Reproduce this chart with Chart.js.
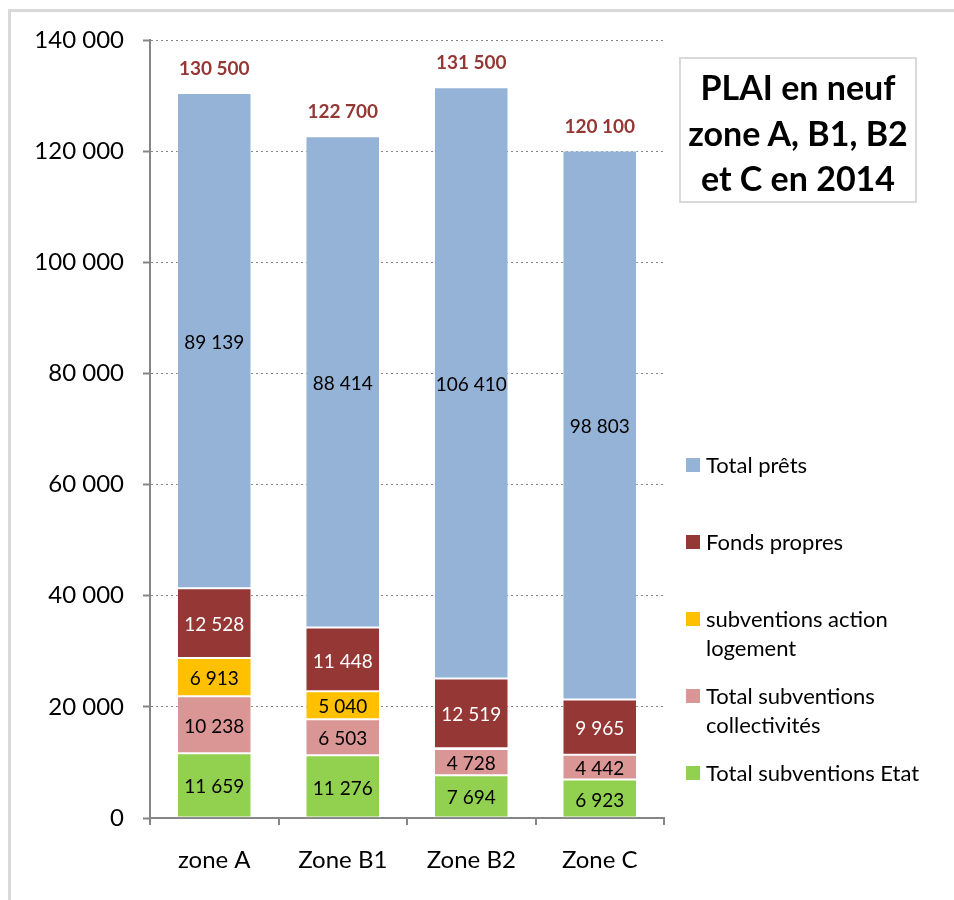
<!DOCTYPE html>
<html>
<head>
<meta charset="utf-8">
<script src="https://cdn.jsdelivr.net/npm/chart.js@4.4.1/dist/chart.umd.min.js"></script>
<style>
  body { margin: 0; background: #fff; font-family: Lato, "Open Sans", sans-serif; }
  #wrap { position: relative; width: 954px; height: 900px; overflow: hidden; }
  #frame { position: absolute; left: 8px; top: 9px; width: 1000px; height: 1000px;
           border-left: 3px solid #d9d9d9; border-top: 3px solid #d9d9d9; }
  #title { position: absolute; left: 679px; top: 57px; width: 234px; height: 137px;
           border: 2px solid #d9d9d9; text-align: center; font-weight: bold;
           font-size: 34px; line-height: 45.5px; padding-top: 5px; }
  #legend { position: absolute; left: 686px; top: 450px; width: 268px; }
  .item { position: relative; height: 77px; font-size: 22px; line-height: 29px; color: #000; }
  .item span.box { position: absolute; left: 0; top: 8px; width: 14px; height: 14px; }
  .item div { position: absolute; left: 20px; top: 0; width: 236px; }
  canvas { position: absolute; left: 0; top: 0; }
</style>
</head>
<body>
<div id="wrap">
  <div id="frame"></div>
  <canvas id="chart" width="954" height="900"></canvas>
  <div id="title">PLAI en neuf<br>zone A, B1, B2<br>et C en 2014</div>
  <div id="legend"></div>
</div>
<script>
// categories and series (stack order: bottom to top)
const zones = ["zone A", "Zone B1", "Zone B2", "Zone C"];
const subvEtat = [11659, 11276, 7694, 6923];
const subvCollectivites = [10238, 6503, 4728, 4442];
const subvActionLogement = [6913, 5040, 150, 0];
const fondsPropres = [12528, 11448, 12519, 9965];
const totalPrets = [89139, 88414, 106410, 98803];
const totals = [130500, 122700, 131500, 120100];
const yTicks = [0, 20000, 40000, 60000, 80000, 100000, 120000, 140000];

const fmt = v => String(v).replace(/\B(?=(\d{3})+(?!\d))/g, " ");

const datasets = [
  { label: "Total subventions Etat", data: subvEtat, backgroundColor: "#92D050", labelColor: "#000" },
  { label: "Total subventions collectivités", data: subvCollectivites, backgroundColor: "#D99694", labelColor: "#000" },
  { label: "subventions action logement", data: subvActionLogement, backgroundColor: "#FFC000", labelColor: "#000" },
  { label: "Fonds propres", data: fondsPropres, backgroundColor: "#953735", labelColor: "#fff" },
  { label: "Total prêts", data: totalPrets, backgroundColor: "#95B3D7", labelColor: "#000" },
].map(d => ({ ...d, borderColor: "rgba(255,255,255,0.35)", borderWidth: 1, borderSkipped: false,
  categoryPercentage: 1, barPercentage: 0.58 }));

// segment values and totals drawn over the bars
const labelPlugin = {
  id: "segLabels",
  afterDatasetsDraw(chart) {
    const ctx = chart.ctx;
    ctx.save();
    ctx.textAlign = "center";
    ctx.textBaseline = "middle";
    ctx.font = "19px Lato";
    chart.data.datasets.forEach((ds, i) => {
      const meta = chart.getDatasetMeta(i);
      meta.data.forEach((bar, j) => {
        const v = ds.data[j];
        if (v < 1000) return;
        ctx.fillStyle = ds.labelColor;
        ctx.fillText(fmt(v), bar.x, (bar.y + bar.base) / 2 + 2);
      });
    });
    const top = chart.getDatasetMeta(chart.data.datasets.length - 1);
    ctx.font = "bold 19px Lato";
    ctx.fillStyle = "#953735";
    top.data.forEach((bar, j) => {
      ctx.fillText(fmt(totals[j]), bar.x, bar.y - 24);
    });
    ctx.restore();
  }
};

new Chart(document.getElementById("chart"), {
  type: "bar",
  data: { labels: zones, datasets },
  plugins: [labelPlugin],
  options: {
    responsive: false,
    animation: false,
    layout: { padding: { top: 40, right: 290, left: 0, bottom: 0 } },
    plugins: { legend: { display: false }, tooltip: { enabled: false } },
    scales: {
      x: {
        stacked: true,
        afterFit: s => { s.height = 82; },
        grid: { drawOnChartArea: false, drawTicks: true, tickLength: 7, color: "#868686", lineWidth: 2 },
        border: { display: true, color: "#868686", width: 2 },
        ticks: { color: "#000", font: { family: "Lato", size: 24 }, padding: 21 },
      },
      y: {
        stacked: true,
        min: 0,
        max: 140000,
        afterFit: s => { s.width = 150; },
        afterBuildTicks: s => { s.ticks = yTicks.map(v => ({ value: v })); },
        grid: { color: "#868686", lineWidth: 1, tickLength: 7, tickColor: "#868686", tickWidth: 2 },
        border: { display: true, color: "#868686", width: 2, dash: [2, 3] },
        ticks: { color: "#000", font: { family: "Lato", size: 24 }, padding: 19, callback: v => fmt(v) },
      },
    },
  },
});

// legend, top to bottom
const legendEl = document.getElementById("legend");
datasets.slice().reverse().forEach(d => {
  const item = document.createElement("div");
  item.className = "item";
  item.innerHTML = '<span class="box" style="background:' + d.backgroundColor + '"></span><div>' + d.label + "</div>";
  legendEl.appendChild(item);
});
</script>
</body>
</html>
